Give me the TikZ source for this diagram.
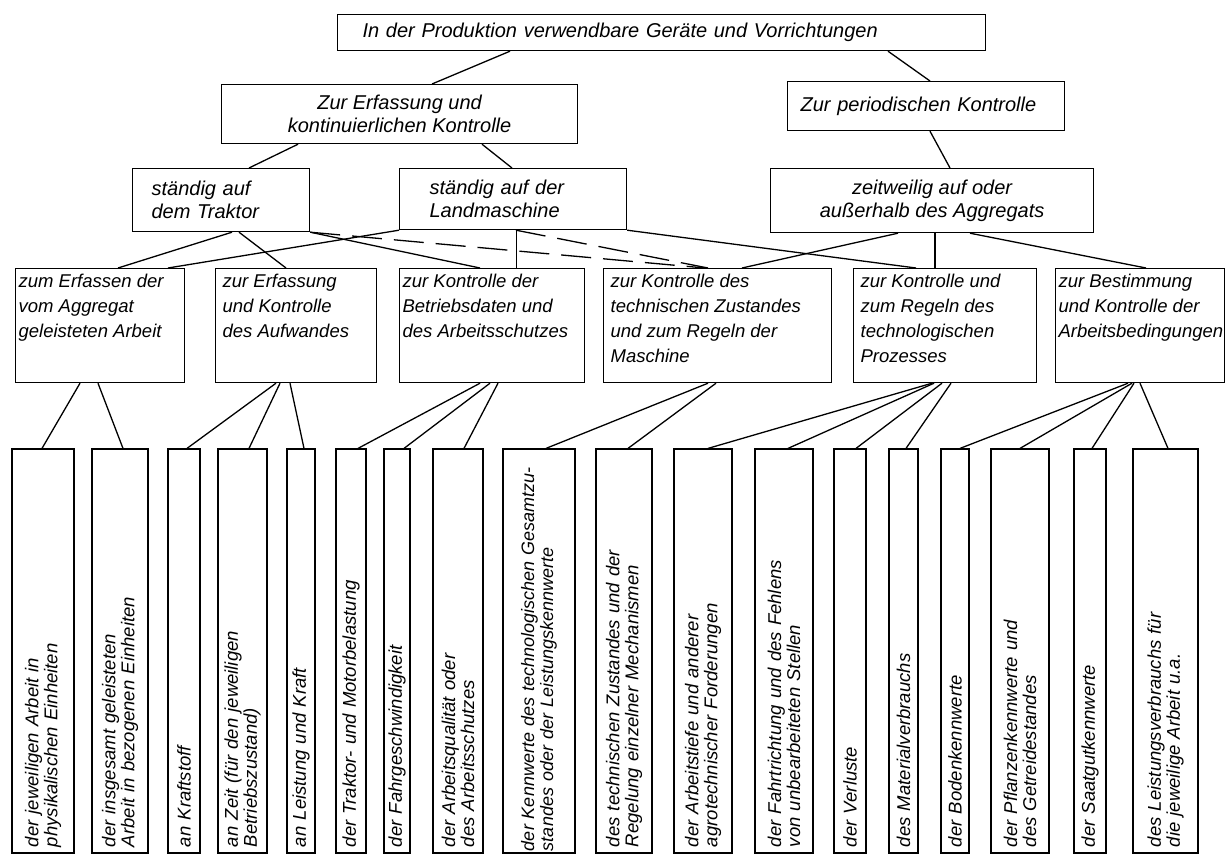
\documentclass[tikz,border=0pt]{standalone}
\usepackage{fontspec}
\setmainfont{Liberation Sans}
\newcommand{\fsA}{\fontsize{20}{23}\selectfont\itshape}
\newcommand{\fsB}{\fontsize{18.5}{25}\selectfont\itshape}
\newcommand{\fsC}{\fontsize{18.5}{19}\selectfont\itshape}
\newcommand{\fsD}{\fontsize{18}{19}\selectfont\itshape}
% width, height, left pad, text
\newcommand{\tb}[4]{\parbox[c][#2pt][t]{#1pt}{\raggedright\leftskip=#3pt\relax\vspace*{5pt}#4}}
\begin{document}
\begin{tikzpicture}[x=1pt,y=-1pt,
  box/.style={draw, line width=1.2pt, rectangle, anchor=north west, font=\fsA},
  lvlbox/.style={draw, line width=1.2pt, rectangle, anchor=north west, inner sep=0pt, font=\fsB},
  leaf/.style={draw, line width=1.2pt, rectangle, rotate=90, anchor=center,
    minimum width=404pt, text width=392pt, inner xsep=6pt, inner ysep=0pt,
    align=left, font=\fsC},
  con/.style={line width=1.3pt},
  dcon/.style={line width=1.3pt, dash pattern=on 30pt off 12pt},
  thincon/.style={line width=0.6pt}
]
\useasboundingbox (0,0) rectangle (1226,859);

% level 1-3
\node[box, minimum width=648pt, minimum height=36pt, inner xsep=25pt, text width=598pt, align=left]
  (T) at (337,14) {In der Produktion verwendbare Geräte und Vorrichtungen};
\node[box, minimum width=356pt, minimum height=59pt, align=center]
  (E) at (221,84) {Zur Erfassung und\\kontinuierlichen Kontrolle};
\node[box, minimum width=277pt, minimum height=49pt, inner xsep=13pt, text width=251pt, align=left]
  (P) at (787,81) {Zur periodischen Kontrolle};
\node[box, minimum width=177pt, minimum height=63pt, inner xsep=19pt, text width=139pt, align=left]
  (Tr) at (132,168) {ständig auf\\dem Traktor};
\node[box, minimum width=227pt, minimum height=61pt, inner xsep=30pt, text width=167pt, align=left]
  (L) at (399,168) {ständig auf der\\Landmaschine};
\node[box, minimum width=323pt, minimum height=64pt, align=center]
  (Z) at (770,168) {zeitweilig auf oder\\außerhalb des Aggregats};

% level 4
\node[lvlbox] (B1) at (15,268)  {\tb{169}{114}{3}{zum Erfassen der\\vom Aggregat\\geleisteten Arbeit}};
\node[lvlbox] (B2) at (215,268) {\tb{161}{114}{7}{zur Erfassung\\und Kontrolle\\des Aufwandes}};
\node[lvlbox] (B3) at (399,268) {\tb{185}{114}{3}{zur Kontrolle der\\Betriebsdaten und\\des Arbeitsschutzes}};
\node[lvlbox] (B4) at (603,268) {\tb{228}{114}{7}{zur Kontrolle des\\technischen Zustandes\\und zum Regeln der\\Maschine}};
\node[lvlbox] (B5) at (853,268) {\tb{183}{114}{7}{zur Kontrolle und\\zum Regeln des\\technologischen\\Prozesses}};
\node[lvlbox] (B6) at (1055,268) {\tb{169}{114}{3}{zur Bestimmung\\und Kontrolle der\\Arbeitsbedingungen}};

% leaves
\node[leaf, minimum height=62pt] (l1) at (43,651) {der jeweiligen Arbeit in\\physikalischen Einheiten};
\node[leaf, minimum height=56pt] (l2) at (120,651) {der insgesamt geleisteten\\Arbeit in bezogenen Einheiten};
\node[leaf, minimum height=32pt] (l3) at (184,651) {an Kraftstoff};
\node[leaf, minimum height=49pt] (l4) at (242.5,651) {an Zeit (für den jeweiligen\\Betriebszustand)};
\node[leaf, minimum height=28pt] (l5) at (301,651) {an Leistung und Kraft};
\node[leaf, minimum height=30pt] (l6) at (351,651) {der Traktor- und Motorbelastung};
\node[leaf, minimum height=26pt] (l7) at (397,651) {der Fahrgeschwindigkeit};
\node[leaf, minimum height=50pt] (l8) at (458,651) {der Arbeitsqualität oder\\des Arbeitsschutzes};
\node[leaf, minimum height=72pt, inner xsep=2pt, text width=400pt, font=\fsD] (l9) at (539,651) {\mbox{der Kennwerte des technologischen Gesamtzu-}\\standes oder der Leistungskennwerte};
\node[leaf, minimum height=56pt] (l10) at (624,651) {des technischen Zustandes und der\\Regelung einzelner Mechanismen};
\node[leaf, minimum height=58pt] (l11) at (703,651) {der Arbeitstiefe und anderer\\agrotechnischer Forderungen};
\node[leaf, minimum height=58pt] (l12) at (784,651) {der Fahrtrichtung und des Fehlens\\von unbearbeiteten Stellen};
\node[leaf, minimum height=32pt] (l13) at (850,651) {der Verluste};
\node[leaf, minimum height=29pt] (l14) at (903.5,651) {des Materialverbrauchs};
\node[leaf, minimum height=28pt] (l15) at (955,651) {der Bodenkennwerte};
\node[leaf, minimum height=58pt] (l16) at (1020,651) {der Pflanzenkennwerte und\\des Getreidestandes};
\node[leaf, minimum height=32pt] (l17) at (1090,651) {der Saatgutkennwerte};
\node[leaf, minimum height=65pt] (l18) at (1165.5,651) {des Leistungsverbrauchs für\\die jeweilige Arbeit u.a.};

% connectors upper levels
\draw[con] ([xshift=173pt]T.south west) -- ([xshift=211pt]E.north west);
\draw[con] ([xshift=551pt]T.south west) -- ([xshift=143pt]P.north west);
\draw[con] ([xshift=143pt]P.south west) -- ([xshift=180pt]Z.north west);
\draw[con] ([xshift=77pt]E.south west) -- ([xshift=117pt]Tr.north west);
\draw[con] ([xshift=261pt]E.south west) -- ([xshift=113pt]L.north west);

% level 3 -> level 4
\draw[con] ([xshift=100pt]Tr.south west) -- ([xshift=103pt]B1.north west);
\draw[con] ([xshift=107pt]Tr.south west) -- ([xshift=71pt]B2.north west);
\draw[con] (Tr.south east) -- ([xshift=81pt]B3.north west);
\draw[dcon] (Tr.south east) -- ([xshift=102pt]B4.north west);
\draw[con] (L.south west) -- ([xshift=153pt]B1.north west);
\draw[thincon] ([xshift=117pt]L.south west) -- ([xshift=117pt]B3.north west);
\draw[dcon] ([xshift=117pt]L.south west) -- ([xshift=105pt]B4.north west);
\draw[con] (L.south east) -- ([xshift=63pt]B5.north west);
\draw[con] ([xshift=128pt]Z.south west) -- ([xshift=139pt]B4.north west);
\draw[con] ([xshift=165pt]Z.south west) -- ([xshift=82pt]B5.north west);
\draw[con] ([xshift=200pt]Z.south west) -- ([xshift=91pt]B6.north west);

% level 4 -> leaves
\draw[con] ([xshift=65pt]B1.south west) -- ([xshift=-1pt]l1.east);
\draw[con] ([xshift=83pt]B1.south west) -- ([xshift=3pt]l2.east);
\draw[con] ([xshift=61pt]B2.south west) -- ([xshift=3pt]l3.east);
\draw[con] ([xshift=65pt]B2.south west) -- ([xshift=6.5pt]l4.east);
\draw[con] ([xshift=75pt]B2.south west) -- ([xshift=3pt]l5.east);
\draw[con] ([xshift=81pt]B3.south west) -- ([xshift=7pt]l6.east);
\draw[con] ([xshift=91pt]B3.south west) -- ([xshift=7pt]l7.east);
\draw[con] ([xshift=99pt]B3.south west) -- ([xshift=6pt]l8.east);
\draw[con] ([xshift=105pt]B4.south west) -- ([xshift=7pt]l9.east);
\draw[con] ([xshift=113pt]B4.south west) -- ([xshift=4pt]l10.east);
\draw[con] ([xshift=79pt]B5.south west) -- ([xshift=5pt]l11.east);
\draw[con] ([xshift=81pt]B5.south west) -- ([xshift=4pt]l12.east);
\draw[con] ([xshift=89pt]B5.south west) -- ([xshift=6pt]l13.east);
\draw[con] ([xshift=98pt]B5.south west) -- ([xshift=2.5pt]l14.east);
\draw[con] ([xshift=73pt]B6.south west) -- ([xshift=5pt]l15.east);
\draw[con] ([xshift=77pt]B6.south west) -- (l16.east);
\draw[con] ([xshift=79pt]B6.south west) -- ([xshift=2pt]l17.east);
\draw[con] ([xshift=85pt]B6.south west) -- ([xshift=2.5pt]l18.east);
\end{tikzpicture}
\end{document}
